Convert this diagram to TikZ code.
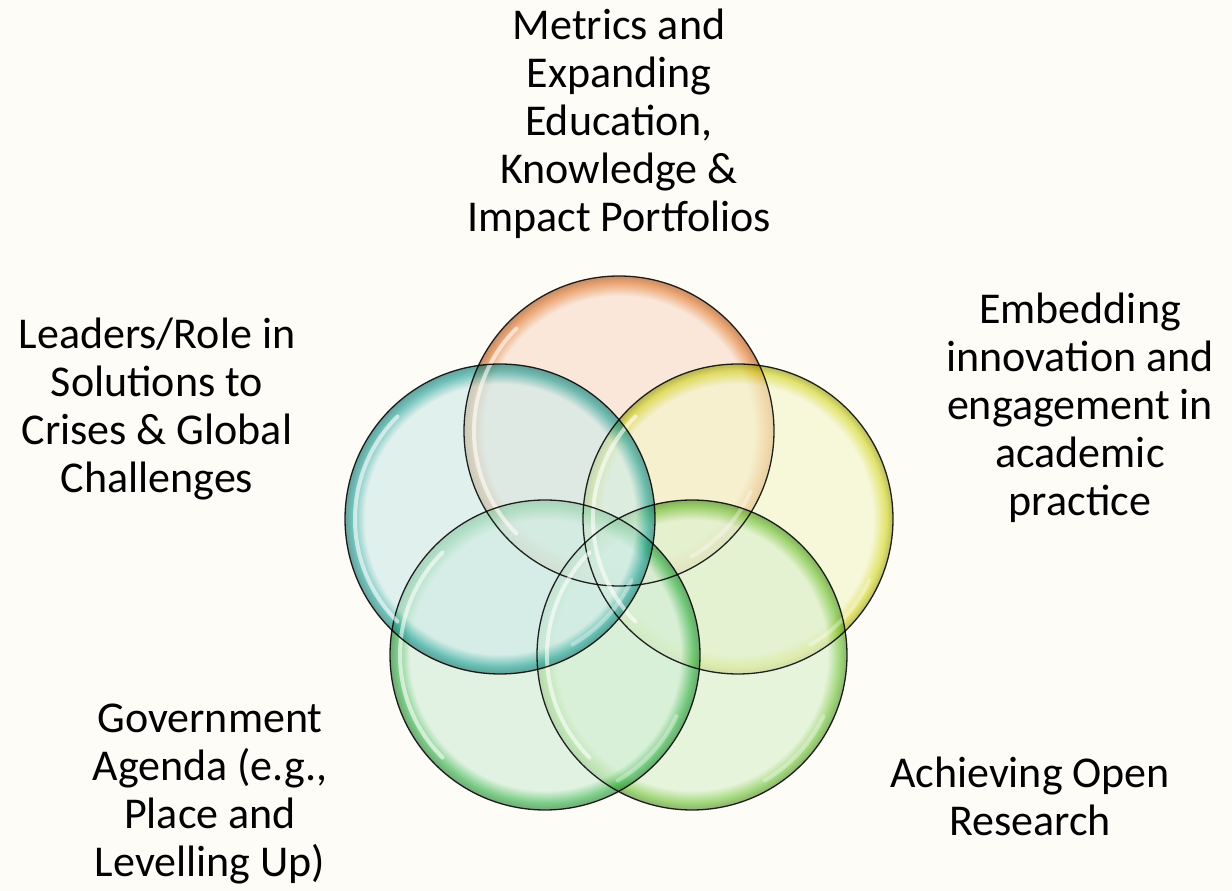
\documentclass[tikz,border=0pt]{standalone}
\usepackage{fontspec}
\setmainfont{Carlito}
\usetikzlibrary{calc}

\definecolor{bgcream}{HTML}{FEFCF7}
\definecolor{orangeedge}{HTML}{E5782E}
\definecolor{tealedge}{HTML}{25A39C}
\definecolor{yellowedge}{HTML}{D2D621}
\definecolor{greenedge}{HTML}{35B24A}
\definecolor{limeedge}{HTML}{6DC236}

\newcommand{\bubbleshading}[3]{%
	\pgfdeclareradialshading{#1}{\pgfpoint{0bp}{0bp}}{color(0bp)=(#2); color(21.8bp)=(#2); color(23.9bp)=(#3); color(25bp)=(#3!70!black); color(50bp)=(#3!70!black)}}
\bubbleshading{bubbleorange}{orangeedge!26!white}{orangeedge}
\bubbleshading{bubbleteal}{tealedge!22!white}{tealedge}
\bubbleshading{bubbleyellow}{yellowedge!24!white}{yellowedge}
\bubbleshading{bubblegreen}{greenedge!22!white}{greenedge}
\bubbleshading{bubblelime}{limeedge!24!white}{limeedge}

\begin{document}
\begin{tikzpicture}[x=1pt,y=1pt,
		caption/.style={align=center,inner sep=0pt,font=\fontsize{44}{48}\selectfont},
		bubble/.style={opacity=0.65},
		rim/.style={draw=black,line width=1.3pt,draw opacity=0.85},
		gloss/.style={white,line width=4pt,line cap=round,draw opacity=0.6}]
	\fill[bgcream] (0,0) rectangle (1232,891);
	\useasboundingbox (0,0) rectangle (1232,891);

	\coordinate (metrics) at (619,460);
	\coordinate (leaders) at (500,372);
	\coordinate (embedding) at (738,372);
	\coordinate (government) at (545,236);
	\coordinate (openres) at (692,236);

	\shade[bubble,shading=bubbleorange] (metrics) circle (155pt);
	\shade[bubble,shading=bubbleyellow] (embedding) circle (155pt);
	\shade[bubble,shading=bubblelime] (openres) circle (155pt);
	\shade[bubble,shading=bubblegreen] (government) circle (155pt);
	\shade[bubble,shading=bubbleteal] (leaders) circle (155pt);

	% outlines and highlights
	\foreach \c in {metrics,embedding,openres,government,leaders}{
		\draw[gloss] ($(\c)+(135:145pt)$) arc[start angle=135,end angle=225,radius=145pt];
		\draw[gloss,draw opacity=0.35] ($(\c)+(-60:145pt)$) arc[start angle=-60,end angle=-25,radius=145pt];
		\draw[rim] (\c) circle (155pt);
	}

	\node[caption] (metricstext) at (619,767) {Metrics and\\Expanding\\Education,\\Knowledge \&\\Impact Portfolios};
	\node[caption] (leaderstext) at (157,482) {Leaders/Role in\\Solutions to\\Crises \& Global\\Challenges};
	\node[caption] (embeddingtext) at (1080,483) {Embedding\\innovation and\\engagement in\\academic\\practice};
	\node[caption] (governmenttext) at (210,97) {Government\\Agenda (e.g.,\\Place and\\Levelling Up)};
	\node[caption] (openrestext) at (1030,95) {Achieving Open\\Research};
\end{tikzpicture}
\end{document}
